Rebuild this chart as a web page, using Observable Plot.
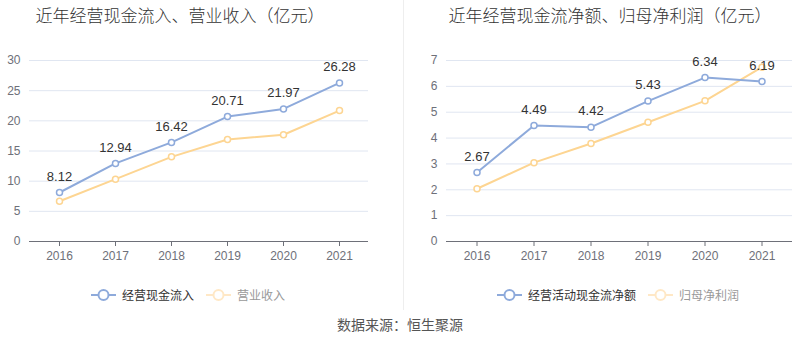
<!DOCTYPE html>
<html><head><meta charset="utf-8">
<script src="https://cdn.jsdelivr.net/npm/d3@7"></script>
<script src="https://cdn.jsdelivr.net/npm/@observablehq/plot@0.6"></script>
<style>
html,body{margin:0;padding:0;background:#fff;}
body{width:800px;height:358px;position:relative;overflow:hidden;font-family:"Liberation Sans","Noto Sans CJK SC",sans-serif;}
.panel{position:absolute;top:0;width:400px;height:310px;}
.title{position:absolute;top:2px;left:0;width:100%;text-align:center;font-size:17px;color:#333;font-family:"Noto Sans CJK SC",sans-serif;font-weight:300;}
.chart{position:absolute;top:30px;left:0;}
.legend{position:absolute;top:286px;left:0;width:100%;display:flex;justify-content:center;font-size:12px;font-family:"Noto Sans CJK SC",sans-serif;}
.item{display:flex;align-items:center;margin:0 6px;}
.item svg{margin-right:6px;}
#sep{position:absolute;left:403px;top:0;width:1px;height:310px;background:#eee;}
#caption{position:absolute;top:314px;left:0;width:800px;text-align:center;font-size:14px;color:#555;font-family:"Noto Sans CJK SC",sans-serif;}
</style></head>
<body>
<div class="panel" id="p1" style="left:0"><div class="title" style="left:-20px">近年经营现金流入、营业收入（亿元）</div><div class="chart"></div><div class="legend" style="left:-12px"></div></div>
<div id="sep"></div>
<div class="panel" id="p2" style="left:400px"><div class="title" style="left:10px">近年经营现金流净额、归母净利润（亿元）</div><div class="chart"></div><div class="legend" style="left:18px"></div></div>
<div id="caption">数据来源：恒生聚源</div>
<script>
const years = ["2016","2017","2018","2019","2020","2021"];
const cashIn = [8.12, 12.94, 16.42, 20.71, 21.97, 26.28];
const revenue = [6.68, 10.33, 14.03, 16.9, 17.7, 21.7];
const netCash = [2.67, 4.49, 4.42, 5.43, 6.34, 6.19];
const netProfit = [2.04, 3.05, 3.79, 4.61, 5.44, 6.74];
const ticks1 = [0,5,10,15,20,25,30];
const ticks2 = [0,1,2,3,4,5,6,7];
const names1 = ["经营现金流入","营业收入"];
const names2 = ["经营活动现金流净额","归母净利润"];
const BLUE = "#8eaadb", YELLOW = "#fdd592";

function panel(sel, a, b, ticks, ymax, ml, mr, names) {
  const A = years.map((y,i)=>({year:y, v:a[i]}));
  const B = years.map((y,i)=>({year:y, v:b[i]}));
  const chart = Plot.plot({
    width: 400, height: 240,
    marginTop: 30, marginBottom: 29, marginLeft: ml, marginRight: mr,
    style: {fontSize: "12px", fontFamily: "'Liberation Sans',Arial,sans-serif", background: "transparent"},
    x: {type: "band", domain: years, padding: 0, label: null},
    y: {domain: [0, ymax], label: null},
    marks: [
      Plot.gridY(ticks, {stroke: "#e0e6f1", strokeOpacity: 1, strokeWidth: 1}),
      Plot.axisY(ticks, {tickSize: 0, tickPadding: 9, fill: "#6e7079", label: null, fontSize: 12}),
      Plot.axisX({tickSize: 5, tickPadding: 5, stroke: "#6e7079", fill: "#6e7079", label: null, fontSize: 12}),
      Plot.ruleY([0], {stroke: "#6e7079", strokeWidth: 1}),
      Plot.line(B, {x: "year", y: "v", stroke: YELLOW, strokeWidth: 2}),
      Plot.dot(B, {x: "year", y: "v", r: 3, stroke: YELLOW, strokeWidth: 1.5, fill: "#fff"}),
      Plot.line(A, {x: "year", y: "v", stroke: BLUE, strokeWidth: 2}),
      Plot.dot(A, {x: "year", y: "v", r: 3, stroke: BLUE, strokeWidth: 1.5, fill: "#fff"}),
      Plot.text(A, {x: "year", y: "v", text: d => d.v.toFixed(2), dy: -16, fill: "#333", fontSize: 13})
    ]
  });
  document.querySelector(sel + " .chart").appendChild(chart);
  const leg = document.querySelector(sel + " .legend");
  const cols = [[BLUE, "#333"], ["#ffe8c6", "#999"]];
  names.forEach((n, i) => {
    const it = document.createElement("div"); it.className = "item";
    it.innerHTML = `<svg width="25" height="14"><line x1="0" x2="25" y1="7" y2="7" stroke="${cols[i][0]}" stroke-width="2"/><circle cx="12.5" cy="7" r="5" fill="#fff" stroke="${cols[i][0]}" stroke-width="2"/></svg><span style="color:${cols[i][1]}">${n}</span>`;
    leg.appendChild(it);
  });
}
panel("#p1", cashIn, revenue, ticks1, 30, 29, 32, names1);
panel("#p2", netCash, netProfit, ticks2, 7, 46, 8, names2);
</script>
</body></html>
